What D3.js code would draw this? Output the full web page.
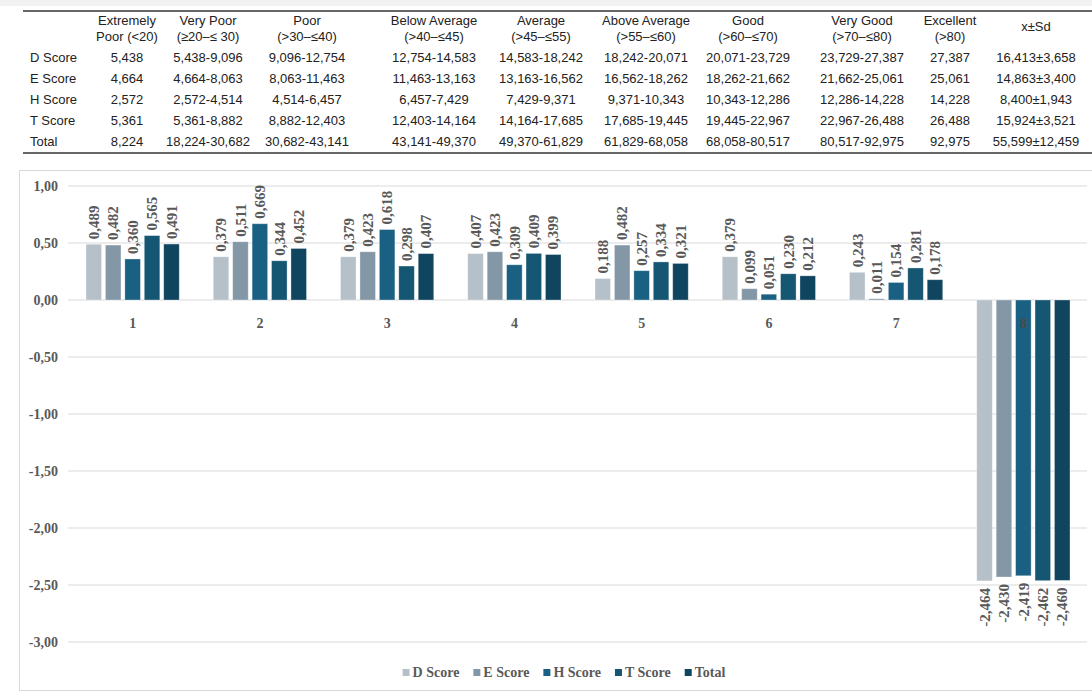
<!DOCTYPE html>
<html>
<head>
<meta charset="utf-8">
<script src="https://cdn.jsdelivr.net/npm/d3@7"></script>
<style>
  body { margin: 0; background: #fff; }
  svg { display: block; }
</style>
</head>
<body>
<div id="chart"></div>
<script>
// table data
const tableHeaders = [
  ['Extremely', 'Poor (<20)'],
  ['Very Poor', '(≥20–≤ 30)'],
  ['Poor', '(>30–≤40)'],
  ['Below Average', '(>40–≤45)'],
  ['Average', '(>45–≤55)'],
  ['Above Average', '(>55–≤60)'],
  ['Good', '(>60–≤70)'],
  ['Very Good', '(>70–≤80)'],
  ['Excellent', '(>80)'],
  ['x±Sd']
];
const tableRowNames = ['D Score', 'E Score', 'H Score', 'T Score', 'Total'];
const dRow = ['5,438', '5,438-9,096', '9,096-12,754', '12,754-14,583', '14,583-18,242', '18,242-20,071', '20,071-23,729', '23,729-27,387', '27,387', '16,413±3,658'];
const eRow = ['4,664', '4,664-8,063', '8,063-11,463', '11,463-13,163', '13,163-16,562', '16,562-18,262', '18,262-21,662', '21,662-25,061', '25,061', '14,863±3,400'];
const hRow = ['2,572', '2,572-4,514', '4,514-6,457', '6,457-7,429', '7,429-9,371', '9,371-10,343', '10,343-12,286', '12,286-14,228', '14,228', '8,400±1,943'];
const tRow = ['5,361', '5,361-8,882', '8,882-12,403', '12,403-14,164', '14,164-17,685', '17,685-19,445', '19,445-22,967', '22,967-26,488', '26,488', '15,924±3,521'];
const totalRow = ['8,224', '18,224-30,682', '30,682-43,141', '43,141-49,370', '49,370-61,829', '61,829-68,058', '68,058-80,517', '80,517-92,975', '92,975', '55,599±12,459'];

// chart data
const groups = ['1', '2', '3', '4', '5', '6', '7', '8'];
const seriesNames = ['D Score', 'E Score', 'H Score', 'T Score', 'Total'];
const dScore = [0.489, 0.379, 0.379, 0.407, 0.188, 0.379, 0.243, -2.464];
const eScore = [0.482, 0.511, 0.423, 0.423, 0.482, 0.099, 0.011, -2.430];
const hScore = [0.360, 0.669, 0.618, 0.309, 0.257, 0.051, 0.154, -2.419];
const tScore = [0.565, 0.344, 0.298, 0.409, 0.334, 0.230, 0.281, -2.462];
const totalScore = [0.491, 0.452, 0.407, 0.399, 0.321, 0.212, 0.178, -2.460];
const yTicks = [1, 0.5, 0, -0.5, -1, -1.5, -2, -2.5, -3];

const seriesValues = [dScore, eScore, hScore, tScore, totalScore];
const colors = ['#b5c0c9', '#8497a7', '#1a6083', '#155672', '#10455f'];

const W = 1092, H = 696;
const svg = d3.select('#chart').append('svg')
  .attr('width', W).attr('height', H);

// ---------- table ----------
const colCenters = [127, 208, 307, 434, 541, 646, 748, 862, 950, 1036];
const tableFont = '"Liberation Sans", Arial, sans-serif';
const tbl = svg.append('g').attr('font-family', tableFont).attr('font-size', 13).attr('fill', '#222');

svg.append('rect').attr('x', 0).attr('y', 0).attr('width', W).attr('height', 6).attr('fill', '#f2f2f2');
svg.append('line').attr('x1', 23).attr('x2', W).attr('y1', 11).attr('y2', 11)
  .attr('stroke', '#666').attr('stroke-width', 2);
svg.append('line').attr('x1', 23).attr('x2', W).attr('y1', 153).attr('y2', 153)
  .attr('stroke', '#666').attr('stroke-width', 2);

tableHeaders.forEach((lines, i) => {
  const t = tbl.append('text').attr('text-anchor', 'middle');
  const y0 = lines.length === 1 ? 31 : 25;
  lines.forEach((s, j) => {
    t.append('tspan').attr('x', colCenters[i]).attr('y', y0 + j * 16).text(s);
  });
});

const rows = [dRow, eRow, hRow, tRow, totalRow];
rows.forEach((row, r) => {
  const y = 62 + r * 21;
  tbl.append('text').attr('x', 30).attr('y', y).text(tableRowNames[r]);
  row.forEach((cell, c) => {
    tbl.append('text').attr('x', colCenters[c]).attr('y', y)
      .attr('text-anchor', 'middle').text(cell);
  });
});

// ---------- chart ----------
svg.append('rect')
  .attr('x', 19.5).attr('y', 170.5).attr('width', W).attr('height', 520)
  .attr('fill', 'none').attr('stroke', '#d9d9d9');

const serif = '"Liberation Serif", "Times New Roman", serif';
const grey = '#595959';
const locale = d3.formatLocale({ decimal: ',', thousands: '.', grouping: [3], currency: ['', ''], minus: '-' });
const fmtTick = locale.format('.2f');
const fmtVal = locale.format('.3f');

const x = d3.scaleBand().domain(groups).range([69, 1087]);
const xs = d3.scaleBand().domain(seriesNames).range([17, x.bandwidth() - 17]).paddingInner(0.2);
const y = d3.scaleLinear().domain([-3, 1]).range([642, 186]);

const grid = svg.append('g');
grid.selectAll('line').data(yTicks).join('line')
  .attr('x1', 68).attr('x2', 1087)
  .attr('y1', d => y(d)).attr('y2', d => y(d))
  .attr('stroke', '#d9d9d9').attr('stroke-width', 1);

const yAxis = d3.axisLeft(y).tickValues(yTicks).tickFormat(fmtTick).tickSize(0).tickPadding(0);
svg.append('g')
  .attr('transform', 'translate(58,0)')
  .call(yAxis)
  .call(g => g.select('.domain').remove())
  .call(g => g.selectAll('text')
    .attr('font-family', serif).attr('font-size', 14).attr('font-weight', 'bold').attr('fill', grey));

const barData = [];
groups.forEach((g, gi) => {
  seriesNames.forEach((s, si) => {
    barData.push({ group: g, series: s, value: seriesValues[si][gi], color: colors[si] });
  });
});

const bars = svg.append('g');
bars.selectAll('rect').data(barData).join('rect')
  .attr('x', d => x(d.group) + xs(d.series))
  .attr('width', xs.bandwidth())
  .attr('y', d => y(Math.max(0, d.value)))
  .attr('height', d => Math.abs(y(d.value) - y(0)))
  .attr('fill', d => d.color)
  .attr('stroke', '#ffffff').attr('stroke-opacity', 0.4).attr('stroke-width', 0.8);

// value labels
svg.append('g').selectAll('text').data(barData).join('text')
  .attr('transform', d => {
    const cx = x(d.group) + xs(d.series) + xs.bandwidth() / 2;
    const yy = d.value >= 0 ? y(d.value) - 5 : y(d.value) + 7;
    return `translate(${cx},${yy}) rotate(-90)`;
  })
  .attr('text-anchor', d => d.value >= 0 ? 'start' : 'end')
  .attr('dy', '0.35em')
  .attr('font-family', serif).attr('font-size', 15).attr('font-weight', 'bold')
  .attr('fill', grey)
  .text(d => fmtVal(d.value));

// category labels
svg.append('g').selectAll('text').data(groups).join('text')
  .attr('x', d => x(d) + x.bandwidth() / 2)
  .attr('y', y(0) + 28)
  .attr('text-anchor', 'middle')
  .attr('font-family', serif).attr('font-size', 14).attr('font-weight', 'bold')
  .attr('fill', d => d === '8' ? '#4a4a4a' : grey)
  .text(d => d);

// legend
const legend = svg.append('g').attr('font-family', serif).attr('font-size', 14)
  .attr('font-weight', 'bold').attr('fill', grey);
const items = legend.selectAll('g').data(seriesNames).join('g');
items.append('rect').attr('width', 7).attr('height', 7).attr('y', -8)
  .attr('fill', (d, i) => colors[i]);
items.append('text').attr('x', 10).text(d => d);
let cursor = 0;
const positions = [];
items.each(function () {
  const w = this.getBBox().width;
  positions.push(cursor);
  cursor += w + 14;
});
const totalW = cursor - 14;
const startX = 564 - totalW / 2;
items.attr('transform', (d, i) => `translate(${startX + positions[i]},677)`);
</script>
</body>
</html>
